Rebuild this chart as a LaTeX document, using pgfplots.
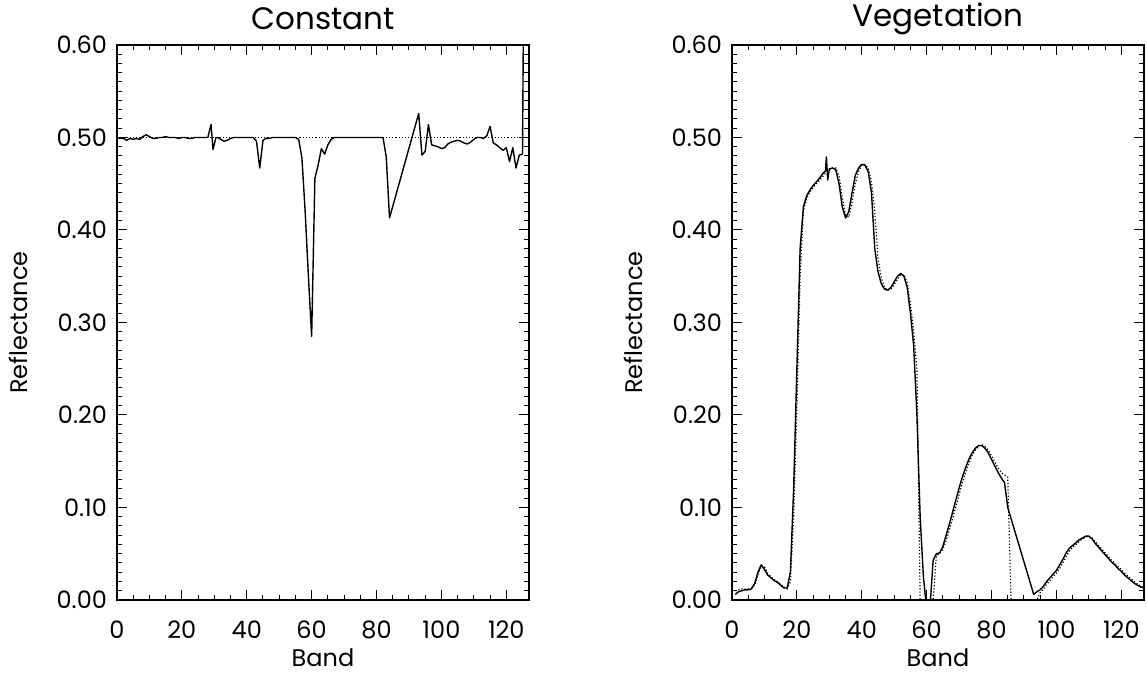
\documentclass[border=0pt]{standalone}
\usepackage{fontspec}
\setmainfont{Poppins}
\usepackage{pgfplots}
\pgfplotsset{compat=1.18}

% reflectance spectra, solid = retrieved, dotted = reference
\pgfplotsset{
  specaxis/.style={
    scale only axis,
    width=206pt, height=277.5pt,
    xmin=0, xmax=127, ymin=0, ymax=0.6,
    xtick={0,20,40,60,80,100,120},
    ytick={0,0.1,0.2,0.3,0.4,0.5,0.6},
    minor x tick num=3,
    minor y tick num=9,
    tick align=inside,
    major tick length=5pt,
    minor tick length=2.5pt,
    every tick/.style={black, line width=0.5pt},
    axis line style={line width=0.6pt},
    /pgf/number format/assume math mode=true,
    yticklabel style={/pgf/number format/.cd, fixed, fixed zerofill, precision=2, /tikz/.cd, xshift=-1.5pt},
    xticklabel style={yshift=-7pt},
    font=\fontsize{12}{14}\selectfont,
    every axis title/.style={font=\fontsize{15.5}{18}\selectfont, at={(axis description cs:0.5,1.0468)}, anchor=center},
    every axis x label/.style={at={(axis description cs:0.5,0)}, anchor=center, yshift=-29pt},
    every axis y label/.style={at={(axis description cs:-0.2403,0.5)}, anchor=center, rotate=90},
    xlabel={Band}, ylabel={Reflectance},
  },
  solidspec/.style={black, line width=0.7pt, mark=none, line join=round},
  dotspec/.style={black, line width=0.6pt, mark=none, dash pattern=on 0.6pt off 1pt},
}

\begin{document}
\begin{tikzpicture}
\path[use as bounding box] (0,0) rectangle (573.5pt,337pt);

\begin{axis}[specaxis, at={(58.5pt,37pt)}, title={Constant}]
\addplot[dotspec] coordinates {(0,0.5) (127,0.5)};
\addplot[solidspec] coordinates {
  (0,0.500) (1,0.499) (2,0.499) (3,0.497) (4,0.499) (5,0.498) (6,0.499) (7,0.498)
  (8,0.501) (9,0.503) (10,0.501) (11,0.499) (12,0.499) (13,0.500) (14,0.500)
  (15,0.501) (16,0.500) (17,0.500) (18,0.500) (19,0.499) (20,0.500) (21,0.500)
  (22,0.499) (23,0.499) (24,0.500) (25,0.500) (26,0.500) (27,0.500) (28,0.500)
  (29,0.514) (29.6,0.487) (30.5,0.500) (31,0.500) (32,0.498) (33,0.496) (34,0.497)
  (35,0.499) (36,0.500) (37,0.500) (38,0.500) (39,0.500) (40,0.500) (41,0.500)
  (42,0.500) (43,0.496) (44,0.467) (45,0.497) (46,0.499) (47,0.499) (48,0.500)
  (49,0.500) (50,0.500) (51,0.500) (52,0.500) (53,0.500) (54,0.500) (55,0.500)
  (56,0.498) (57,0.478) (58,0.420) (59,0.350) (60,0.285) (61,0.456) (62,0.470)
  (63,0.488) (64,0.482) (65,0.492) (66,0.498) (67,0.500) (68,0.500) (70,0.500)
  (72,0.500) (74,0.500) (76,0.500) (78,0.500) (80,0.500) (81,0.500) (82,0.500)
  (83,0.479) (84,0.413) (93,0.526) (94,0.481) (95,0.485) (96,0.514) (97,0.492)
  (98,0.491) (99,0.490) (100,0.488) (101,0.489) (102,0.493) (103,0.495) (104,0.496)
  (105,0.497) (106,0.496) (107,0.494) (108,0.493) (109,0.495) (110,0.498)
  (111,0.500) (112,0.500) (113,0.499) (114,0.502) (115,0.512) (116,0.494)
  (117,0.492) (118,0.489) (119,0.486) (120,0.489) (121,0.474) (122,0.489)
  (123,0.467) (124,0.481) (125,0.482) (126,1.000)
};
\end{axis}

\begin{axis}[specaxis, at={(366pt,37pt)}, title={Vegetation}]
\addplot[dotspec] coordinates {
  (1,0.010) (2,0.011) (3,0.012) (4,0.012) (5,0.012) (6,0.013) (7,0.016) (8,0.027)
  (9,0.037) (10,0.036) (11,0.029) (12,0.025) (13,0.022) (14,0.020) (15,0.017)
  (16,0.014) (17,0.012) (18,0.020) (19,0.090) (20,0.210) (21,0.350) (22,0.420)
  (23,0.434) (24,0.441) (25,0.446) (26,0.450) (27,0.454) (28,0.458) (29,0.462)
  (30,0.465) (31,0.467) (32,0.467) (33,0.458) (34,0.435) (35,0.416) (36,0.414)
  (37,0.430) (38,0.450) (39,0.463) (40,0.470) (41,0.471) (42,0.467) (43,0.452)
  (44,0.420) (45,0.370) (46,0.348) (47,0.338) (48,0.335) (49,0.336) (50,0.341)
  (51,0.347) (52,0.352) (53,0.352) (54,0.343) (55,0.320) (56,0.290) (57,0.250)
  (58,0.000) (59,0.000) (60,0.000) (61,0.000) (62,0.000) (63,0.048) (64,0.050)
  (65,0.055) (66,0.064) (67,0.076) (68,0.088) (69,0.101) (70,0.114) (71,0.127)
  (72,0.138) (73,0.148) (74,0.156) (75,0.162) (76,0.166) (77,0.168) (78,0.166)
  (79,0.162) (80,0.156) (81,0.149) (82,0.143) (83,0.138) (84,0.135) (85,0.133)
  (86,0.000) (88,0.000) (90,0.000) (92,0.000) (94,0.000) (95,0.008) (96,0.012)
  (97,0.017) (98,0.021) (99,0.025) (100,0.029) (101,0.034) (102,0.040) (103,0.047)
  (104,0.053) (105,0.057) (106,0.060) (107,0.063) (108,0.066) (109,0.068)
  (110,0.069) (111,0.067) (112,0.063) (113,0.059) (114,0.055) (115,0.051)
  (116,0.047) (117,0.043) (118,0.040) (119,0.036) (120,0.033) (121,0.029)
  (122,0.026) (123,0.023) (124,0.020) (125,0.017) (126,0.015) (127,0.013)
};
\addplot[solidspec] coordinates {
  (1,0.006) (2,0.009) (3,0.010) (4,0.011) (5,0.011) (6,0.012) (7,0.018) (8,0.030)
  (9,0.038) (10,0.033) (11,0.027) (12,0.024) (13,0.021) (14,0.019) (15,0.016)
  (16,0.013) (17,0.013) (18,0.030) (19,0.120) (20,0.250) (21,0.380) (22,0.425)
  (23,0.437) (24,0.443) (25,0.448) (26,0.452) (27,0.456) (28,0.461) (28.8,0.464)
  (29.1,0.479) (29.5,0.454) (30,0.466) (31,0.467) (32,0.465) (33,0.450) (34,0.425)
  (35,0.413) (36,0.420) (37,0.440) (38,0.459) (39,0.467) (40,0.471) (41,0.470)
  (42,0.463) (43,0.440) (44,0.380) (45,0.355) (46,0.342) (47,0.336) (48,0.335)
  (49,0.338) (50,0.344) (51,0.350) (52,0.353) (53,0.350) (54,0.338) (55,0.310)
  (56,0.275) (57,0.200) (58,0.090) (59,0.025) (60,-0.010) (61,-0.010) (62,0.043)
  (63,0.050) (64,0.051) (65,0.058) (66,0.070) (67,0.082) (68,0.095) (69,0.108)
  (70,0.121) (71,0.133) (72,0.143) (73,0.152) (74,0.159) (75,0.164) (76,0.167)
  (77,0.167) (78,0.164) (79,0.159) (80,0.152) (81,0.145) (82,0.138) (83,0.132)
  (84,0.127) (85,0.100) (93,0.006) (94,0.009) (95,0.011) (96,0.015) (97,0.020)
  (98,0.024) (99,0.028) (100,0.032) (101,0.038) (102,0.044) (103,0.051)
  (104,0.056) (105,0.059) (106,0.062) (107,0.065) (108,0.067) (109,0.069)
  (110,0.069) (111,0.066) (112,0.061) (113,0.057) (114,0.053) (115,0.049)
  (116,0.045) (117,0.041) (118,0.038) (119,0.034) (120,0.031) (121,0.027)
  (122,0.024) (123,0.021) (124,0.018) (125,0.016) (126,0.014) (127,0.013)
};
\end{axis}
\end{tikzpicture}
\end{document}
